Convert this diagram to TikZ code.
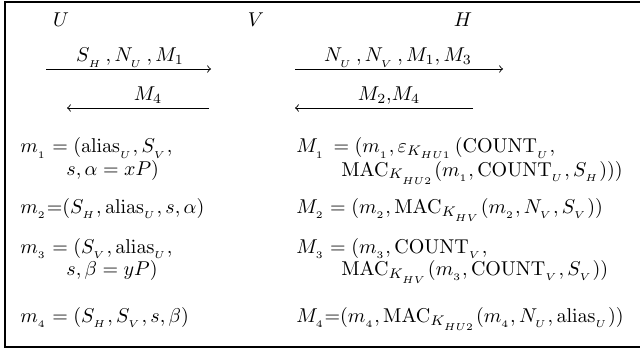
\documentclass[tikz,border=0pt]{standalone}
\usepackage{amsmath}
\begin{document}
\begin{tikzpicture}[x=0.5pt,y=-0.5pt,
  lbl/.style={inner sep=0pt,anchor=base west},
  msg/.style={inner sep=0pt,anchor=base},
  ar/.style={-to,line width=0.45pt},
  frame/.style={line width=1.1pt}]
\useasboundingbox (0,0) rectangle (640,352);
\draw[frame] (5,2) rectangle (644,347);
% headers
\node[msg] (U) at (61,27) {$U$};
\node[msg] (V) at (256,27) {$V$};
\node[msg] (H) at (463,27) {$H$};
% arrows U<->V
\coordinate (a1s) at (46,69);
\coordinate (a1e) at (211,69);
\draw[ar] (a1s) -- (a1e);
\node[msg] (l1) at (130,62) {$S_{_H}\,, N_{_U}\,, M_1$};
\coordinate (a2s) at (209,108);
\coordinate (a2e) at (67,108);
\draw[ar] (a2s) -- (a2e);
\node[msg] (l2) at (148,101) {$M_4$};
% arrows V<->H
\coordinate (b1s) at (295,69);
\coordinate (b1e) at (503,69);
\draw[ar] (b1s) -- (b1e);
\node[msg] (l3) at (398,62) {$N_{_U}\,, N_{_V}\,, M_1, M_3$};
\coordinate (b2s) at (473,108);
\coordinate (b2e) at (295,108);
\draw[ar] (b2s) -- (b2e);
\node[msg] (l4) at (389,101) {$M_2{,}M_4$};
% left column
\node[lbl] (m1a) at (20,153) {$m_{_1} = (\mathrm{alias}_{_U}, S_{_V},$};
\node[lbl] (m1b) at (66,175) {$s, \alpha = xP)$};
\node[lbl] (m2) at (20,213) {$m_{_2}{=}(S_{_H}, \mathrm{alias}_{_U}, s, \alpha)$};
\node[lbl] (m3a) at (20,253) {$m_{_3} = (S_{_V}, \mathrm{alias}_{_U},$};
\node[lbl] (m3b) at (66,275) {$s, \beta = yP)$};
\node[lbl] (m4) at (20,322) {$m_{_4} = (S_{_H}, S_{_V}, s, \beta)$};
% right column
\node[lbl] (M1a) at (296,153) {$M_{_1}\, = (m_{_1}, \varepsilon_{K_{HU1}}\,(\mathrm{COUNT}_{_U},$};
\node[lbl] (M1b) at (341,176) {$\mathrm{MAC}_{K_{_{HU2}}}(m_{_1}, \mathrm{COUNT}_{_U}, S_{_H})))$};
\node[lbl] (M2) at (296,213) {$M_{_2} = (m_{_2}, \mathrm{MAC}_{K_{_{HV}}}(m_{_2}, N_{_V}, S_{_V}))$};
\node[lbl] (M3a) at (296,253) {$M_{_3} = (m_{_3}, \mathrm{COUNT}_{_V},$};
\node[lbl] (M3b) at (341,275) {$\mathrm{MAC}_{K_{_{HV}}}(m_{_3}, \mathrm{COUNT}_{_V}, S_{_V}))$};
\node[lbl] (M4) at (296,322) {$M_{_4}{=}(m_{_4}, \mathrm{MAC}_{K_{_{HU2}}}(m_{_4}, N_{_U}, \mathrm{alias}_{_U}))$};
\end{tikzpicture}
\end{document}
